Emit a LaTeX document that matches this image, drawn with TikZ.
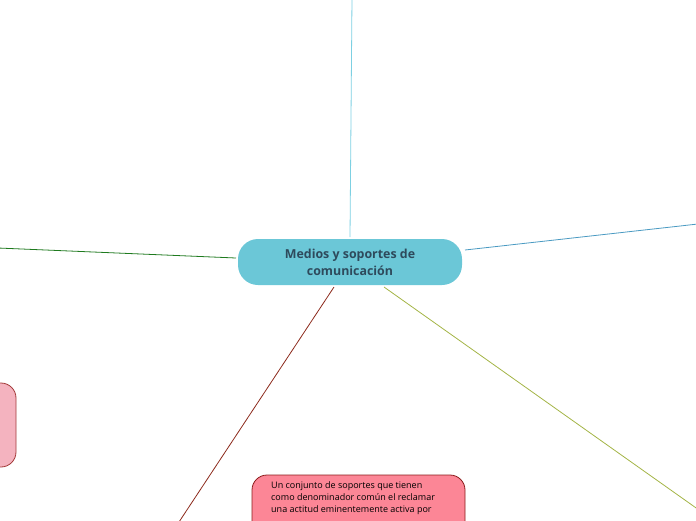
\documentclass[tikz,border=0pt]{standalone}
\usepackage{fontspec}
\setmainfont{Open Sans}
\definecolor{centralfill}{HTML}{6BC7D7}
\definecolor{centraltext}{HTML}{2E4A5C}
\definecolor{ltopline}{HTML}{7DD0E2}
\definecolor{lrightline}{HTML}{4A9AC2}
\definecolor{lleftline}{HTML}{1E7A1E}
\definecolor{lbleftline}{HTML}{8C2A1C}
\definecolor{lbrightline}{HTML}{A3B445}
\definecolor{pinkfill}{HTML}{F4B3BF}
\definecolor{pinkborder}{HTML}{A33A3A}
\definecolor{redfill}{HTML}{FC8696}
\definecolor{redborder}{HTML}{8C1C1C}
\tikzset{
  conn/.style={line width=0.8pt},
  centralbox/.style={draw=none, fill=centralfill, rounded corners=20pt, minimum width=224pt, minimum height=46pt, text=centraltext, font=\bfseries\fontsize{12.4}{17}\selectfont, align=center, inner sep=0pt},
  pinkbox/.style={draw=pinkborder, fill=pinkfill, line width=0.8pt, rounded corners=15pt},
  redbox/.style={draw=redborder, fill=redfill, line width=0.8pt, rounded corners=15pt},
}
\begin{document}
\begin{tikzpicture}[x=1pt,y=-1pt]
\useasboundingbox (0,0) rectangle (696,520);
\clip (0,0) rectangle (696,520);
% end points
\coordinate (topend) at (352,-2);
\coordinate (rightend) at (698,224);
\coordinate (leftend) at (-2,248);
\coordinate (bleftend) at (179,522);
\coordinate (brightend) at (699,510);
% lines
\draw[conn, ltopline] (350,237) -- (topend);
\draw[conn, lrightline] (465,250) -- (rightend);
\draw[conn, lleftline] (236,258) -- (leftend);
\draw[conn, lbleftline] (334,287) -- (bleftend);
\draw[conn, lbrightline] (384,287) -- (brightend);
% nodes
\node[centralbox] (central) at (350,262) {Medios y soportes de\\comunicación};
\draw[pinkbox] (-30,383) rectangle (16,467);
\node[inner sep=0pt] (pinknode) at (0,425) {};
\draw[redbox] (252,475) rectangle (465,560);
\node[anchor=north west, inner sep=0pt, align=left, font=\fontsize{9}{12}\selectfont] (redtext) at (271,481)
 {Un conjunto de soportes que tienen\\como denominador común el reclamar\\una actitud eminentemente activa por};
\end{tikzpicture}
\end{document}
